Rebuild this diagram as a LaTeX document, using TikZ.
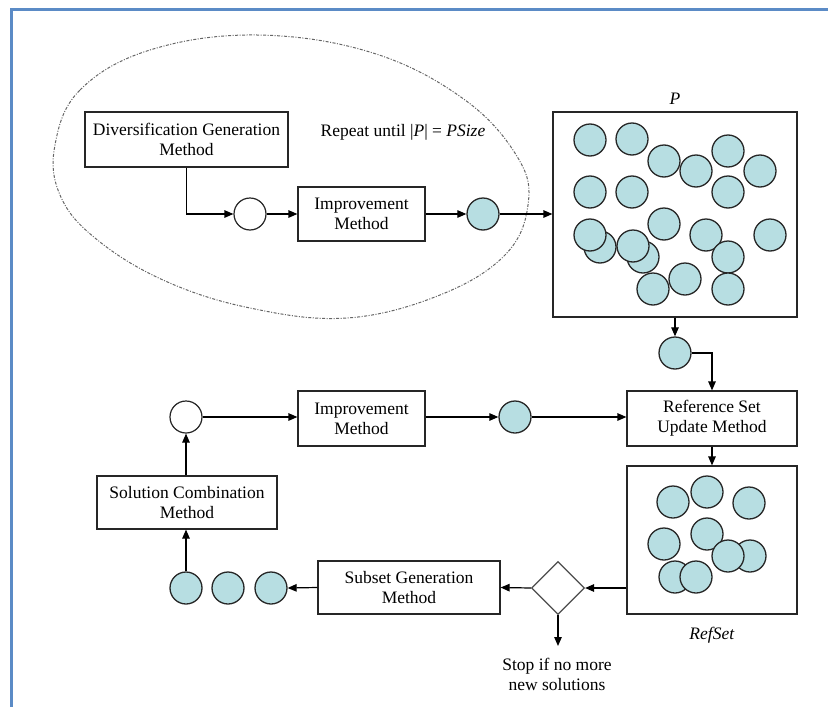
\documentclass[tikz,border=0pt]{standalone}
\usepackage{fontspec}
\setmainfont{Liberation Serif}
\usetikzlibrary{arrows.meta,shapes.geometric}
\definecolor{solblue}{RGB}{183,222,226}
\definecolor{frameblue}{RGB}{91,139,198}
\begin{document}
\begin{tikzpicture}[x=1pt,y=-1pt,
  every node/.style={font=\fontsize{17.5}{20}\selectfont},
  box/.style={draw=black!85, line width=1.2, align=center, inner sep=0},
  sol/.style={circle, draw=black!85, fill=solblue, line width=1.3, minimum size=32, inner sep=0},
  hole/.style={circle, draw=black!85, fill=white, line width=1.2, minimum size=32, inner sep=0},
  arr/.style={line width=1.2, -{Triangle[length=9,width=7.5]}}]

% page area
\useasboundingbox (0,0) rectangle (828,707);
\draw[frameblue, line width=3] (11.5,707) -- (11.5,9.5) -- (828,9.5);

% loop that builds the initial population
\draw[black!60, line width=1, dash pattern=on 3 off 1.5 on 1 off 1.5]
  plot[smooth cycle, tension=0.65] coordinates {
  (55,145) (80,90) (150,50) (257,35) (373,53) (465,100) (518,158)
  (528,205) (505,255) (440,295) (347,318) (250,308) (163,280) (95,238) (60,195)};

\node[box, minimum width=203, minimum height=55] (div) at (186.5,139.5) {Diversification Generation\\Method};
\node (rep) at (403,132) {Repeat until |\textit{P}| = \textit{PSize}};
\node[hole] (w1) at (250,214) {};
\node[box, minimum width=127, minimum height=54] (im1) at (361.5,214) {Improvement\\Method};
\node[sol] (g1) at (483,214) {};

% population P
\node[box, minimum width=244, minimum height=205] (pop) at (675,214.5) {};
\node (plabel) at (675,99) {\textit{P}};
\foreach \x/\y [count=\i] in {590/140, 632/139, 664/161, 696/171, 728/151, 760/171,
  590/192, 632/192, 728/192, 600/247, 590/235, 643/257, 633/246, 664/224,
  706/235, 728/257, 770/235, 653/289, 685/279, 728/289}
  \node[sol] (p\i) at (\x,\y) {};

\draw[arr] (div.south) |- (w1.west);
\draw[arr] (w1.east) -- (im1.west);
\draw[arr] (im1.east) -- (g1.west);
\draw[arr] (g1.east) -- (g1.east -| pop.west);

% reference set update
\node[sol] (pc) at (675,353) {};
\node[box, minimum width=170, minimum height=55] (ru) at (712,418.5) {Reference Set\\Update Method};
\node[box, minimum width=170, minimum height=148] (rs) at (712,540) {};
\node (rslabel) at (712,635) {\textit{RefSet}};
\foreach \x/\y [count=\i] in {673/502, 707/492, 749/503, 707/534, 664/544,
  750/556, 728/556, 675/577, 696/577}
  \node[sol] (r\i) at (\x,\y) {};

\draw[arr] (pop.south) -- (pc.north);
\draw[arr] (pc.east) -| (ru.north);
\draw[arr] (ru.south) -- (rs.north);

% subset generation and combination
\node[diamond, draw=black!70, line width=1.2, minimum width=53, minimum height=53, inner sep=0] (dm) at (558,588) {};
\coordinate (stopend) at (558,646);
\node[align=center] (stop) at (557,674) {Stop if no more\\new solutions};
\node[box, minimum width=182, minimum height=53] (sg) at (409,587.5) {Subset Generation\\Method};
\node[sol] (b1) at (186,588) {};
\node[sol] (b2) at (228,588) {};
\node[sol] (b3) at (271,588) {};
\node[box, minimum width=180, minimum height=53] (sc) at (187,502.5) {Solution Combination\\Method};
\node[hole] (w2) at (186,417) {};
\node[box, minimum width=127, minimum height=55] (im2) at (361.5,418.5) {Improvement\\Method};
\node[sol] (g2) at (515,417) {};

\draw[arr] (dm.east -| rs.west) -- (dm.east);
\draw[arr] (dm.south) -- (stopend);
\draw[arr] (dm.west) -- (sg.east);
\draw[arr] (sg.west) -- (b3.east);
\draw[arr] (b1.north) -- (b1.north |- sc.south);
\draw[arr] (sc.north -| w2.south) -- (w2.south);
\draw[arr] (w2.east) -- (w2.east -| im2.west);
\draw[arr] (w2.east -| im2.east) -- (g2.west);
\draw[arr] (g2.east) -- (g2.east -| ru.west);
\end{tikzpicture}
\end{document}
